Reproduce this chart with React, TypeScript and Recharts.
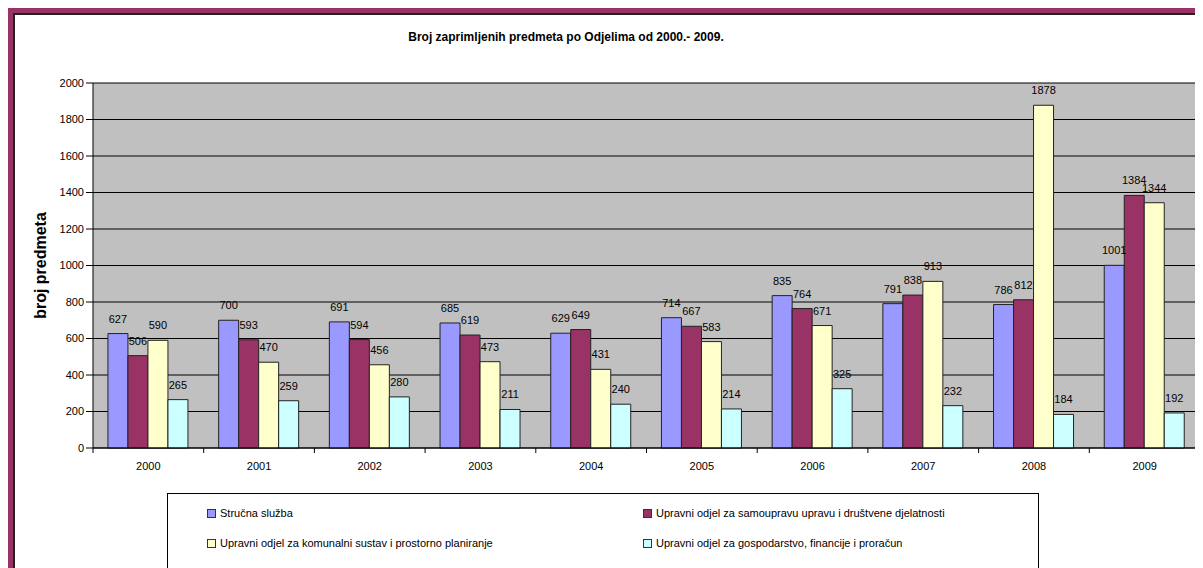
import { BarChart, Bar, XAxis, YAxis, CartesianGrid, LabelList, Legend } from 'recharts';

const years = ['2000', '2001', '2002', '2003', '2004', '2005', '2006', '2007', '2008', '2009'];
const strucnaSluzba = [627, 700, 691, 685, 629, 714, 835, 791, 786, 1001];
const samouprava = [506, 593, 594, 619, 649, 667, 764, 838, 812, 1384];
const komunalni = [590, 470, 456, 473, 431, 583, 671, 913, 1878, 1344];
const gospodarstvo = [265, 259, 280, 211, 240, 214, 325, 232, 184, 192];
const yTicks = [0, 200, 400, 600, 800, 1000, 1200, 1400, 1600, 1800, 2000];

const seriesNames = [
  'Stručna služba',
  'Upravni odjel za samoupravu upravu i društvene djelatnosti',
  'Upravni odjel za komunalni sustav i prostorno planiranje',
  'Upravni odjel za gospodarstvo, financije i proračun',
];
const seriesColors = ['#9999FF', '#993366', '#FFFFCC', '#CCFFFF'];
const seriesKeys = ['s1', 's2', 's3', 's4'];

const data = years.map((year, i) => ({
  year,
  s1: strucnaSluzba[i],
  s2: samouprava[i],
  s3: komunalni[i],
  s4: gospodarstvo[i],
}));

const font = '"Liberation Sans", Arial, sans-serif';
const TICK_SIZE = 5;
const TICK_MARGIN = 9;

// year label plus tick marks on the category boundaries (Excel style)
function YearTick(props: any) {
  const { x, y, payload, index, visibleTicksCount, width } = props;
  const band = width / visibleTicksCount;
  const axisY = y - TICK_SIZE - TICK_MARGIN;
  return (
    <g>
      <line x1={x - band / 2} x2={x - band / 2} y1={axisY} y2={axisY + TICK_SIZE} stroke="#000" />
      {index === visibleTicksCount - 1 && (
        <line x1={x + band / 2} x2={x + band / 2} y1={axisY} y2={axisY + TICK_SIZE} stroke="#000" />
      )}
      <text x={x} y={y} dy="0.71em" textAnchor="middle" fontSize={11} fill="#000">
        {payload.value}
      </text>
    </g>
  );
}

function LegendBox({ payload }: any) {
  const items = [...(payload || [])].sort(
    (a: any, b: any) => seriesNames.indexOf(a.value) - seriesNames.indexOf(b.value)
  );
  return (
    <div
      style={{
        border: '1px solid #000',
        background: '#fff',
        height: '100%',
        boxSizing: 'border-box',
        display: 'grid',
        gridTemplateColumns: '436px 1fr',
        gridAutoRows: '30px',
        paddingTop: 4,
        paddingLeft: 39,
        fontSize: 11,
        fontFamily: font,
        color: '#000',
      }}
    >
      {items.map((p: any) => (
        <div key={p.value} style={{ display: 'flex', alignItems: 'center' }}>
          <span
            style={{
              width: 7,
              height: 7,
              background: p.color,
              border: '1px solid #333',
              marginRight: 4,
              display: 'inline-block',
            }}
          />
          {p.value}
        </div>
      ))}
    </div>
  );
}

export default function App() {
  return (
    <div style={{ position: 'relative', width: 1195, height: 560, overflow: 'hidden', background: '#fff' }}>
      <div
        style={{
          position: 'absolute',
          left: 0,
          top: 0,
          width: 1240,
          height: 620,
          border: '5px solid #993366',
          boxShadow: 'inset 0 0 0 2px #222',
          boxSizing: 'border-box',
        }}
      />
      <div
        style={{
          position: 'absolute',
          left: 358,
          top: 22,
          width: 400,
          textAlign: 'center',
          fontFamily: font,
          fontWeight: 'bold',
          fontSize: 12,
          lineHeight: '14px',
          color: '#000',
        }}
      >
        Broj zaprimljenih predmeta po Odjelima od 2000.- 2009.
      </div>
      <div style={{ position: 'absolute', left: 0, top: 0 }}>
        <BarChart
          width={1195}
          height={560}
          data={data}
          margin={{ top: 75, right: 3, left: 40, bottom: 90 }}
          barCategoryGap="13.5%"
          barGap={0}
          style={{ fontFamily: font }}
        >
          <CartesianGrid vertical={false} stroke="#000" fill="#C0C0C0" fillOpacity={1} />
          <XAxis
            dataKey="year"
            tickLine={false}
            axisLine={{ stroke: '#000' }}
            tickSize={TICK_SIZE}
            tickMargin={TICK_MARGIN}
            height={30}
            interval={0}
            tick={<YearTick />}
          />
          <YAxis
            domain={[0, 2000]}
            ticks={yTicks}
            interval={0}
            width={45}
            tickSize={7}
            tickMargin={2}
            axisLine={{ stroke: '#000' }}
            tickLine={{ stroke: '#000' }}
            tick={{ fontSize: 11, fill: '#000' }}
            label={{
              value: 'broj predmeta',
              angle: -90,
              position: 'left',
              offset: 8,
              style: { textAnchor: 'middle', fontSize: 16, fontWeight: 'bold', fill: '#000' },
            }}
          />
          <YAxis
            yAxisId={1}
            orientation="right"
            domain={[0, 2000]}
            width={0}
            tick={false}
            tickLine={false}
            axisLine={{ stroke: '#808080' }}
          />
          <Legend
            layout="horizontal"
            verticalAlign="middle"
            align="center"
            content={<LegendBox />}
            wrapperStyle={{ left: 159, top: 485, width: 872, height: 100 }}
          />
          {seriesKeys.map((key, i) => (
            <Bar
              key={key}
              dataKey={key}
              name={seriesNames[i]}
              fill={seriesColors[i]}
              stroke="#222"
              strokeWidth={1}
              isAnimationActive={false}
            >
              <LabelList dataKey={key} position="top" offset={11} fontSize={11} fill="#000" />
            </Bar>
          ))}
        </BarChart>
      </div>
    </div>
  );
}
